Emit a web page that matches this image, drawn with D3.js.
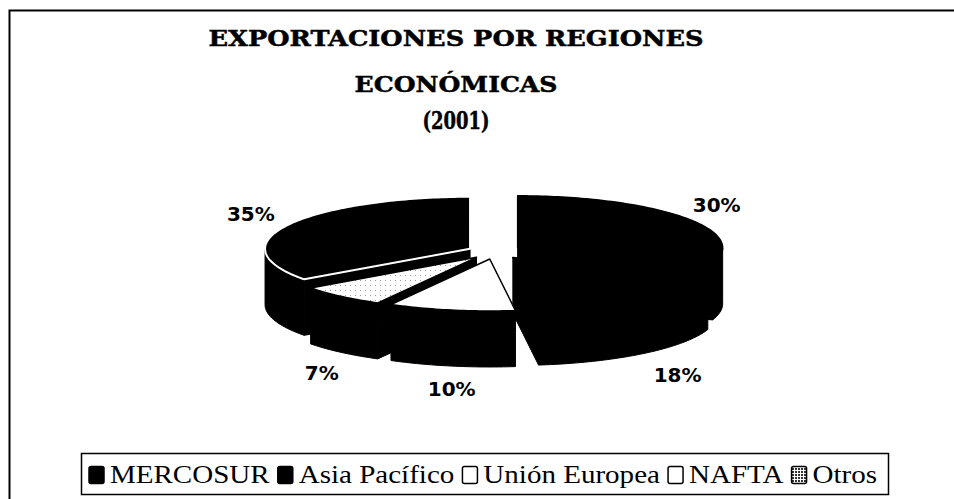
<!DOCTYPE html>
<html>
<head>
<meta charset="utf-8">
<script src="https://cdn.jsdelivr.net/npm/d3@7"></script>
<style>
  html, body { margin: 0; padding: 0; background: #fff; }
  svg { display: block; }
</style>
</head>
<body>
<svg id="chart" width="954" height="499"></svg>
<script>
// chart data
const categories = ["MERCOSUR", "Asia Pacífico", "Unión Europea", "NAFTA", "Otros"];
const shares = [30, 18, 10, 7, 35];
const titleLines = ["EXPORTACIONES POR REGIONES", "ECONÓMICAS", "(2001)"];

// look of each slice (top face / walls) and its legend key
const topFills = ["#000", "#000", "#fff", "url(#dots)", "#000"];
const topStrokes = ["#000", "#000", "#000", "#000", "#fff"];
const keyFills = ["#000", "#000", "#fff", "#fff", "url(#checks)"];

const width = 954, height = 499;
const svg = d3.select("#chart");

// fill patterns
const defs = svg.append("defs");
const dots = defs.append("pattern").attr("id", "dots")
  .attr("width", 5).attr("height", 5).attr("patternUnits", "userSpaceOnUse");
dots.append("rect").attr("width", 5).attr("height", 5).attr("fill", "#fff");
dots.append("rect").attr("width", 1).attr("height", 1).attr("fill", "#999");
const checks = defs.append("pattern").attr("id", "checks")
  .attr("width", 3).attr("height", 3).attr("patternUnits", "userSpaceOnUse");
checks.append("rect").attr("width", 3).attr("height", 3).attr("fill", "#fff");
checks.append("rect").attr("width", 2).attr("height", 2).attr("fill", "#333");

// outer frame (runs off the right and bottom of the page in the scan)
svg.append("rect")
  .attr("x", 9.5).attr("y", 10.5)
  .attr("width", 980).attr("height", 520)
  .attr("fill", "none").attr("stroke", "#000").attr("stroke-width", 2);

// title
const titleY = [46, 92, 129];
const titleW = [495, 203, 67];
const titleSize = [23, 23, 24];
svg.selectAll(".title").data(titleLines).enter()
  .append("text")
  .attr("class", "title")
  .attr("x", 456)
  .attr("y", (d, i) => titleY[i])
  .attr("text-anchor", "middle")
  .attr("textLength", (d, i) => titleW[i])
  .attr("lengthAdjust", "spacingAndGlyphs")
  .style("font-family", "'DejaVu Serif', serif")
  .style("font-weight", "bold")
  .style("font-size", (d, i) => titleSize[i] + "px")
  .style("stroke", "#000")
  .style("stroke-width", 0.5)
  .text(d => d);

// ---- 3D exploded pie ----
const cx = 495, cy = 252;    // centre of the top face
const rx = 205, ry = 52;     // ellipse radii of the top face
const depth = 56;            // thickness of the pie
const explode = 28;          // pull-out distance (horizontal units)

// unit circle coordinates -> screen offsets
const ex = d3.scaleLinear().domain([-1, 1]).range([-rx, rx]);
const ey = d3.scaleLinear().domain([-1, 1]).range([-ry, ry]);

const pie = d3.pie().sort(null).value(d => d.value);
const slices = pie(categories.map((c, i) => ({ name: c, value: shares[i], i: i })));

slices.forEach(s => {
  s.mid = (s.startAngle + s.endAngle) / 2;
  s.ox = cx + ex(Math.sin(s.mid)) * explode / rx;
  s.oy = cy + ey(-Math.cos(s.mid)) * explode / rx;
});

function rim(s, a, dy) {
  return [s.ox + ex(Math.sin(a)), s.oy + ey(-Math.cos(a)) + (dy || 0)];
}
function arcPts(s, a0, a1, dy) {
  const n = Math.max(2, Math.ceil((a1 - a0) / 0.02));
  return d3.range(n + 1).map(k => rim(s, a0 + (a1 - a0) * k / n, dy));
}
const line = d3.line();

// back slices first
const order = slices.slice().sort((a, b) => (-Math.cos(a.mid)) - (-Math.cos(b.mid)));

const pieG = svg.append("g");
order.forEach(s => {
  const g = pieG.append("g");
  const apex = [s.ox, s.oy];
  const apexB = [s.ox, s.oy + depth];

  // cut face at the start angle
  if (Math.sin(s.startAngle) < 0) {
    const p = rim(s, s.startAngle), q = rim(s, s.startAngle, depth);
    g.append("path").attr("d", line([apex, p, q, apexB]) + "Z")
      .attr("fill", "#000").attr("stroke", "#000");
  }
  // cut face at the end angle
  if (Math.sin(s.endAngle) > 0) {
    const p = rim(s, s.endAngle), q = rim(s, s.endAngle, depth);
    g.append("path").attr("d", line([apex, p, q, apexB]) + "Z")
      .attr("fill", "#000").attr("stroke", "#000");
  }
  // outer wall, front half only
  const a0 = Math.max(s.startAngle, Math.PI / 2);
  const a1 = Math.min(s.endAngle, Math.PI * 1.5);
  if (a1 > a0) {
    const pts = arcPts(s, a0, a1).concat(arcPts(s, a0, a1, depth).reverse());
    g.append("path").attr("d", line(pts) + "Z")
      .attr("fill", "#000").attr("stroke", "#000");
  }
  // top face
  const top = [apex].concat(arcPts(s, s.startAngle, s.endAngle));
  g.append("path").attr("d", line(top) + "Z")
    .attr("fill", topFills[s.data.i])
    .attr("stroke", topStrokes[s.data.i])
    .attr("stroke-width", s.data.i === 4 ? 2 : 1.5)
    .attr("stroke-linejoin", "round");
});

// percentage labels
const labelR = 1.2;
svg.selectAll(".pct").data(slices).enter()
  .append("text")
  .attr("class", "pct")
  .attr("x", d => {
    const x = d.ox + ex(Math.sin(d.mid)) * labelR;
    return -Math.cos(d.mid) > 0 ? x + 8 : x;
  })
  .attr("y", d => {
    const c = -Math.cos(d.mid);
    const y = d.oy + ey(c) * labelR;
    return c > 0 ? y + depth + 13 : y - 6;
  })
  .attr("text-anchor", "middle")
  .attr("dominant-baseline", "central")
  .style("font-family", "'DejaVu Sans', sans-serif")
  .style("font-weight", "bold")
  .style("font-size", "20px")
  .text(d => d.value + "%");

// ---- legend ----
svg.append("rect")
  .attr("x", 81.5).attr("y", 453.5)
  .attr("width", 807).attr("height", 41)
  .attr("fill", "#fff").attr("stroke", "#000").attr("stroke-width", 1.5);

const legendLeft = 89, legendRight = 877;
const keyW = 15, keyH = 17, keyGap = 3, itemGap = 7;
const leg = svg.append("g");
const items = leg.selectAll(".item").data(categories).enter()
  .append("g").attr("class", "item");
items.append("rect")
  .attr("y", 466.5).attr("width", keyW).attr("height", keyH)
  .attr("rx", 2)
  .attr("fill", (d, i) => keyFills[i])
  .attr("stroke", "#000").attr("stroke-width", 1.5);
items.append("text")
  .attr("y", 483)
  .style("font-family", "'Liberation Serif', 'Times New Roman', serif")
  .style("font-size", "25px")
  .text(d => d);

let x = 0;
items.each(function () {
  const it = d3.select(this);
  it.select("rect").attr("x", x);
  it.select("text").attr("x", x + keyW + keyGap);
  x += keyW + keyGap + it.select("text").node().getComputedTextLength() + itemGap;
});
const natural = x - itemGap;
const k = (legendRight - legendLeft) / natural;
items.each(function () {
  const it = d3.select(this);
  const r = it.select("rect"), t = it.select("text");
  const rx0 = +r.attr("x"), tx0 = +t.attr("x");
  const tw = t.node().getComputedTextLength();
  r.attr("x", legendLeft + rx0 * k);
  t.attr("x", legendLeft + tx0 * k)
    .attr("textLength", tw * k)
    .attr("lengthAdjust", "spacingAndGlyphs");
});
</script>
</body>
</html>
